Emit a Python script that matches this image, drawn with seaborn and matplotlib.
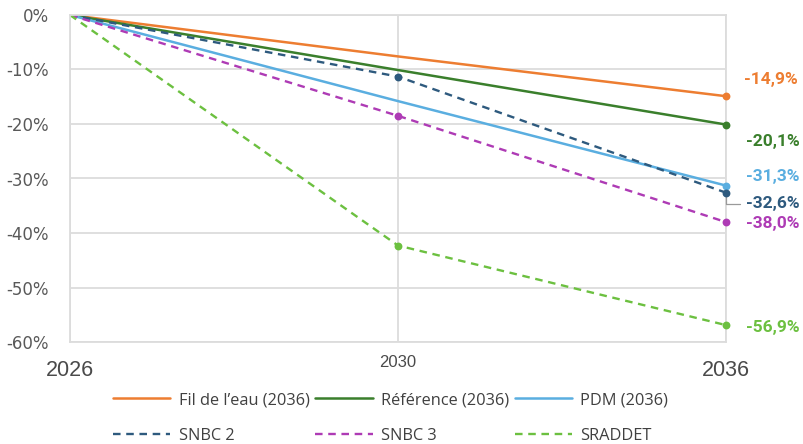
import numpy as np
import pandas as pd
import matplotlib
matplotlib.use("Agg")
import matplotlib.pyplot as plt
from matplotlib.lines import Line2D
import seaborn as sns

# data (% change vs 2026)
years = ["2026", "2030", "2036"]
fil_eau = [0.0, -7.6, -14.9]
reference = [0.0, -10.1, -20.1]
pdm = [0.0, -15.8, -31.3]
snbc2 = [0.0, -11.3, -32.6]
snbc3 = [0.0, -18.5, -38.0]
sraddet = [0.0, -42.3, -56.9]
end_labels = ["-14,9%", "-20,1%", "-31,3%", "-32,6%", "-38,0%", "-56,9%"]

series = [
    # name, values, colour, dashed, marker at 2030
    ("Fil de l\u2019eau (2036)", fil_eau, "#ED7D31", False, False),
    ("R\u00e9f\u00e9rence (2036)", reference, "#3A7F2C", False, False),
    ("PDM (2036)", pdm, "#5AAEE0", False, False),
    ("SNBC 2", snbc2, "#2E5A7E", True, True),
    ("SNBC 3", snbc3, "#AE3BB5", True, True),
    ("SRADDET", sraddet, "#6CC040", True, True),
]

# label offsets in pixels from the 2036 point (manual, like the excel labels)
label_offsets = [(18, 17), (20, -17), (20, 9), (20, -11), (20, -1), (20, -2)]

sns.set_style("white")
plt.rcParams["font.family"] = ["Liberation Sans", "DejaVu Sans"]
plt.rcParams["lines.dashed_pattern"] = [3.2, 2.4]

fig = plt.figure(figsize=(8.04, 4.44), dpi=100)
ax = fig.add_axes([70 / 804, 1 - 342 / 444, 656 / 804, 327 / 444])

xpos = np.arange(len(years))
handles = []
for (name, vals, col, dashed, mid_marker), lab, off in zip(series, end_labels, label_offsets):
    df = pd.DataFrame({"x": xpos, "y": vals})
    ls = "--" if dashed else "-"
    lw = 1.7 if dashed else 1.8
    sns.lineplot(data=df, x="x", y="y", color=col, linewidth=lw, linestyle=ls, ax=ax)
    pts = df.iloc[1:] if mid_marker else df.iloc[2:]
    sns.scatterplot(data=pts, x="x", y="y", color=col, s=32, edgecolor=col, linewidth=0,
                    ax=ax, zorder=5, clip_on=False)
    handles.append(Line2D([], [], color=col, lw=lw, linestyle=ls))
    kw = dict(xy=(xpos[-1], vals[-1]), xytext=off, textcoords="offset pixels",
              color=col, fontsize=12.5, fontweight="bold", va="center", ha="left",
              family="Roboto", annotation_clip=False)
    if lab == "-32,6%":
        kw["arrowprops"] = dict(arrowstyle="-", color="#9a9a9a", lw=0.9, shrinkA=2, shrinkB=3,
                                connectionstyle="angle,angleA=0,angleB=90,rad=0")
    ax.annotate(lab, **kw)

ax.set_xlim(0, 2)
ax.set_ylim(-60, 0)
ax.set_yticks(np.arange(-60, 1, 10))
ax.set_yticklabels([f"{int(v)}%" for v in np.arange(-60, 1, 10)])
ax.set_xticks(xpos)
ax.set_xticklabels(years)
ax.tick_params(axis="y", length=0, pad=15)
ax.tick_params(axis="x", length=0, pad=9)
# 2026 / 2036 are bigger and sit a bit lower than 2030
for tick, size, pad in zip(ax.xaxis.get_major_ticks(), [15.5, 12, 15.5], [13, 9, 13]):
    tick.label1.set_fontsize(size)
    tick.label1.set_color("#4a4a4a")
    tick.set_pad(pad)
for t in ax.get_yticklabels():
    t.set_fontsize(12)
    t.set_family("DejaVu Sans")
    t.set_color("#595959")
ax.set_xlabel("")
ax.set_ylabel("")
ax.grid(True, color="#dcdcdc", linewidth=1.3)
ax.set_axisbelow(True)
for sp in ax.spines.values():
    sp.set_color("#dcdcdc")
    sp.set_linewidth(1.3)

# legend: row-wise order in a 3-column grid
order = [0, 3, 1, 4, 2, 5]
leg = fig.legend([handles[i] for i in order], [series[i][0] for i in order],
                 ncol=3, loc="upper left", bbox_to_anchor=(113 / 804, 1 - 392 / 444),
                 frameon=False, borderpad=0, borderaxespad=0, handlelength=3.5,
                 handletextpad=0.5, columnspacing=0.35, labelspacing=1.2,
                 prop={"family": "Open Sans", "size": 11.8})
for t in leg.get_texts():
    t.set_color("#404040")

fig.savefig("out.png", dpi=100)
